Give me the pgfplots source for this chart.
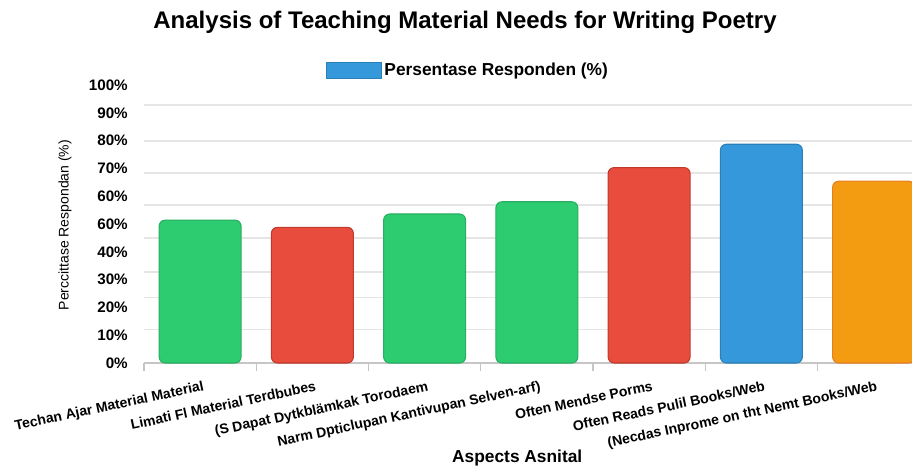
\documentclass[border=0pt]{standalone}
\usepackage{pgfplots}
\pgfplotsset{compat=1.18}
\usepackage{fontspec}
\setmainfont{Liberation Sans}

\definecolor{cgreen}{RGB}{46,204,113}
\definecolor{cgreenD}{RGB}{39,174,96}
\definecolor{cred}{RGB}{231,76,60}
\definecolor{credD}{RGB}{192,57,43}
\definecolor{cblue}{RGB}{52,152,219}
\definecolor{cblueD}{RGB}{41,128,185}
\definecolor{corange}{RGB}{243,156,18}
\definecolor{corangeD}{RGB}{230,126,34}

\begin{document}
\begin{tikzpicture}
% 1px = 0.75pt, page is 912x465 px
\useasboundingbox (0,0) rectangle (684pt,348.75pt);
\begin{axis}[
    at={(108pt,76.5pt)}, anchor=south west,
    scale only axis, width=576pt, height=208.5pt,
    ybar, bar width=0.73,
    xmin=-0.5, xmax=6.342, ymin=0, ymax=100,
    enlargelimits=false,
    axis x line*=bottom, axis y line*=left,
    x axis line style={draw=gray!45, line width=0.8pt},
    y axis line style={draw=none},
    tick align=outside,
    major tick length=0pt, minor tick length=6pt,
    minor tick style={draw=gray!45, line width=0.8pt},
    xtick={0,...,6},
    minor xtick={-0.5,0.5,...,6.5},
    xticklabels={{Techan Ajar Material Material}, {Limati Fl Material Terdbubes}, {(S Dapat Dytkblämkak Torodaem}, {Narm Dpticlupan Kantivupan Selven-arf)}, {Often Mendse Porms}, {Often Reads Pulil Books/Web}, {(Necdas Inprome on tht Nemt Books/Web}},
    xticklabel style={rotate=12, anchor=north east, inner sep=1pt, yshift=-12pt,
        font=\bfseries\fontsize{10.5}{12}\selectfont},
    ytick={0,10,...,100},
    yticklabels={0\%,10\%,20\%,30\%,40\%,60\%,60\%,70\%,80\%,90\%,100\%},
    yticklabel style={font=\bfseries\fontsize{11.4}{13}\selectfont, inner sep=0pt, xshift=-12pt},
    extra y ticks={12.1,23.6,32.7,45,56.8,68.3,79.9,92.8},
    extra y tick labels={},
    extra y tick style={grid=major, major grid style={draw=gray!20, line width=1pt}},
    title={Analysis of Teaching Material Needs for Writing Poetry},
    title style={at={(0.418,1.195)}, anchor=center, font=\bfseries\fontsize{18}{20}\selectfont},
    xlabel={Aspects Asnital},
    xlabel style={at={(0.486,-0.342)}, anchor=center, font=\bfseries\fontsize{13}{15}\selectfont},
    ylabel={Perccittase Respondan (\%)},
    ylabel style={at={(-0.103,0.496)}, anchor=center, font=\fontsize{10.5}{12}\selectfont},
    legend style={at={(0.4225,1.054)}, anchor=center, draw=none, fill=none,
        font=\bfseries\fontsize{13}{15}\selectfont},
    every axis plot/.append style={bar shift=0pt, rounded corners=4.5pt, line width=0.8pt},
]
\addplot[fill=cgreen, draw=cgreenD, forget plot] coordinates {(0,51.4)};
\addplot[fill=cred, draw=credD, forget plot] coordinates {(1,48.8)};
\addplot[fill=cgreen, draw=cgreenD, forget plot] coordinates {(2,53.6)};
\addplot[fill=cgreen, draw=cgreenD, forget plot] coordinates {(3,58.0)};
\addplot[fill=cred, draw=credD, forget plot] coordinates {(4,70.3)};
\addplot[fill=cblue, draw=cblueD, forget plot] coordinates {(5,78.7)};
\addplot[fill=corange, draw=corangeD, forget plot] coordinates {(6,65.4)};
\addlegendimage{legend image code/.code={\draw[sharp corners, fill=cblue, draw=cblueD, line width=0.6pt] (0pt,-6pt) rectangle (41pt,6pt);}}
\addlegendentry{Persentase Responden (\%)}
\end{axis}
\end{tikzpicture}
\end{document}
